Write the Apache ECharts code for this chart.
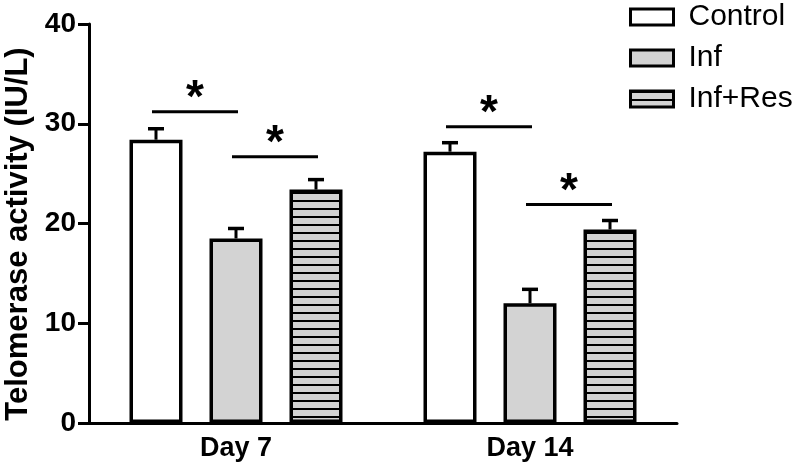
<!DOCTYPE html>
<html>
<head>
<meta charset="utf-8">
<script src="https://cdn.jsdelivr.net/npm/echarts@6/dist/echarts.min.js"></script>
<style>html,body{margin:0;padding:0;background:#fff;}#main{width:800px;height:470px;}</style>
</head>
<body>
<div id="main"></div>
<script>
// ---- data ----
const categories = ['Day 7', 'Day 14'];
const seriesNames = ['Control', 'Inf', 'Inf+Res'];
const controlValues = [28.4, 27.2];
const controlErrors = [1.1, 0.9];
const infValues = [18.5, 12.0];
const infErrors = [1.0, 1.4];
const resValues = [23.4, 19.4];
const resErrors = [1.0, 0.9];
const yTickValues = [0, 10, 20, 30, 40];
// significance brackets: [category index, from series, to series, y level]
const sigBrackets = [[0, 0, 1, 31.2], [0, 1, 2, 26.7], [1, 0, 1, 29.7], [1, 1, 2, 21.9]];
const sigLabel = '*';
const yAxisTitle = 'Telomerase activity (IU/L)';

// ---- styling ----
const FONT = '"Liberation Sans", Arial, Helvetica, sans-serif';
const BAR_W = 53;
const GAP_PX = 27;
const STEP = BAR_W + GAP_PX;

const pc = document.createElement('canvas');
pc.width = 8; pc.height = 8;
const pctx = pc.getContext('2d');
pctx.fillStyle = '#d3d3d3'; pctx.fillRect(0, 0, 8, 8);
pctx.fillStyle = '#000'; pctx.fillRect(0, 0, 8, 2);

const valuesBySeries = [controlValues, infValues, resValues];
const errorsBySeries = [controlErrors, infErrors, resErrors];
const fills = ['#ffffff', '#d3d3d3', {image: pc, repeat: 'repeat'}];

const series = [];
seriesNames.forEach((name, s) => {
  series.push({
    name: name,
    type: 'bar',
    data: valuesBySeries[s],
    barWidth: BAR_W,
    barGap: (GAP_PX / BAR_W * 100) + '%',
    itemStyle: {color: fills[s], borderColor: '#000', borderWidth: 3.5},
    emphasis: {disabled: true},
    z: 2
  });
});
seriesNames.forEach((name, s) => {
  series.push({
    type: 'custom',
    clip: false,
    z: 3,
    data: valuesBySeries[s].map((v, i) => [i, v, errorsBySeries[s][i]]),
    encode: {x: 0, y: 1},
    renderItem: function (params, api) {
      const i = api.value(0), v = api.value(1), e = api.value(2);
      const base = api.coord([i, v]);
      const top = api.coord([i, v + e]);
      const cx = base[0] + (s - 1) * STEP;
      return {
        type: 'group',
        children: [
          {type: 'line', shape: {x1: cx, y1: base[1], x2: cx, y2: top[1]}, style: {stroke: '#000', lineWidth: 3}},
          {type: 'line', shape: {x1: cx - 8, y1: top[1], x2: cx + 8, y2: top[1]}, style: {stroke: '#000', lineWidth: 3.5}}
        ]
      };
    }
  });
});
series.push({
  type: 'custom',
  clip: false,
  z: 4,
  data: sigBrackets.map(b => [b[0], b[3], b[1], b[2]]),
  encode: {x: 0, y: 1},
  renderItem: function (params, api) {
    const c = api.coord([api.value(0), api.value(1)]);
    const x1 = c[0] + (api.value(2) - 1) * STEP - 4;
    const x2 = c[0] + (api.value(3) - 1) * STEP + 2;
    return {
      type: 'group',
      children: [
        {type: 'line', shape: {x1: x1, y1: c[1], x2: x2, y2: c[1]}, style: {stroke: '#000', lineWidth: 3}},
        {type: 'text', x: (x1 + x2) / 2, y: c[1] - 12, style: {text: sigLabel, fontSize: 46, fontWeight: 'bold', fontFamily: FONT, fill: '#000', align: 'center', verticalAlign: 'middle'}}
      ]
    };
  }
});

const chart = echarts.init(document.getElementById('main'), null, {renderer: 'canvas'});
chart.setOption({
  animation: false,
  backgroundColor: '#fff',
  grid: {left: 89, top: 24, width: 588, bottom: 47, containLabel: false},
  legend: {
    data: seriesNames,
    orient: 'vertical',
    left: 624,
    top: -4,
    icon: 'rect',
    itemWidth: 43,
    itemHeight: 16,
    itemGap: 9,
    selectedMode: false,
    itemStyle: {borderColor: '#000', borderWidth: 3},
    textStyle: {fontSize: 30, color: '#000', fontFamily: FONT, padding: [0, 0, 0, 10], lineHeight: 32}
  },
  xAxis: {
    type: 'category',
    data: categories,
    axisLine: {lineStyle: {color: '#000', width: 3}},
    axisTick: {alignWithLabel: true, length: 10, lineStyle: {color: '#000', width: 3}},
    axisLabel: {fontSize: 27, fontWeight: 'bold', color: '#000', fontFamily: FONT, margin: 12}
  },
  yAxis: {
    type: 'value',
    min: yTickValues[0],
    max: yTickValues[yTickValues.length - 1],
    interval: yTickValues[1] - yTickValues[0],
    axisLine: {show: true, lineStyle: {color: '#000', width: 3}},
    axisTick: {show: true, inside: false, length: 11, lineStyle: {color: '#000', width: 3}},
    axisLabel: {inside: false, fontSize: 28, fontWeight: 'bold', color: '#000', fontFamily: FONT, margin: 13},
    splitLine: {show: false}
  },
  graphic: [{
    type: 'text',
    x: 18,
    y: 234,
    rotation: Math.PI / 2,
    style: {text: yAxisTitle, fontSize: 31, fontWeight: 'bold', fontFamily: FONT, fill: '#000', align: 'center', verticalAlign: 'middle'}
  }],
  series: series
});
</script>
</body>
</html>
